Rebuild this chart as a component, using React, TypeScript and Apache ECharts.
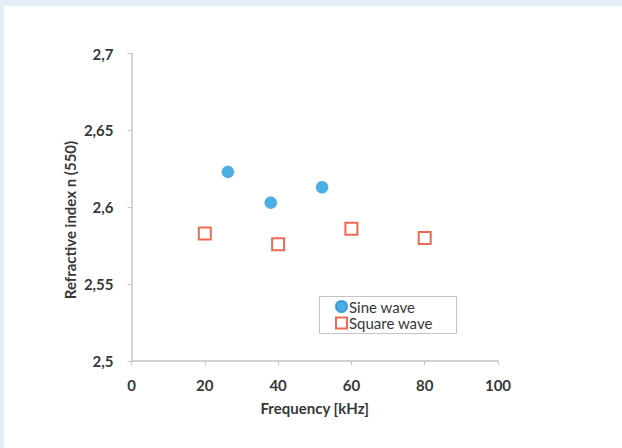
import React, { useEffect, useRef } from "react";
import * as echarts from "echarts";

const sineFreq = [26.3, 38.0, 52.0];
const sineN = [2.623, 2.603, 2.613];
const squareFreq = [20, 40, 60, 80];
const squareN = [2.583, 2.576, 2.586, 2.58];
const seriesNames = ["Sine wave", "Square wave"];
const xTitle = "Frequency [kHz]";
const yTitle = "Refractive index n (550)";

const FONT = "Lato, 'Open Sans', sans-serif";
const TXT = "#383838";
const AXIS = "#c4c4c4";

export default function App() {
  const ref = useRef<HTMLDivElement>(null);
  useEffect(() => {
    document.body.style.margin = "0";
    const chart = echarts.init(ref.current!, null, { renderer: "svg" });
    chart.setOption({
      animation: false,
      backgroundColor: "#e5eef6",
      textStyle: { fontFamily: FONT },
      grid: { left: 131.5, top: 53.5, right: 124, bottom: 87 },
      graphic: [
        { type: "rect", z: -10, shape: { x: 4, y: 6, width: 620, height: 444 }, style: { fill: "#ffffff" } },
        { type: "rect", z: 10, shape: { x: 319.5, y: 296.5, width: 137, height: 37 }, style: { fill: "#ffffff", stroke: AXIS, lineWidth: 1 } },
        {
          type: "text", z: 10, x: 70, y: 220, rotation: Math.PI / 2,
          style: { text: yTitle, fill: TXT, font: `bold 15px ${FONT}`, align: "center", verticalAlign: "middle" },
        },
      ],
      legend: {
        orient: "vertical",
        left: 335,
        top: 299,
        z: 20,
        itemWidth: 11,
        itemHeight: 11,
        itemGap: 1.6,
        padding: 0,
        textStyle: { color: TXT, fontSize: 15, lineHeight: 15, fontFamily: FONT, padding: [0, 0, 0, -3] },
        data: [
          { name: seriesNames[0], icon: "circle" },
          { name: seriesNames[1], icon: "rect" },
        ],
      },
      xAxis: {
        type: "value",
        min: 0,
        max: 100,
        interval: 20,
        name: xTitle,
        nameLocation: "middle",
        nameGap: 39,
        nameTextStyle: { color: TXT, fontWeight: "bold", fontSize: 15, fontFamily: FONT },
        axisLine: { show: true, lineStyle: { color: AXIS, width: 1.5 } },
        axisTick: { show: true, length: 4, lineStyle: { color: AXIS } },
        axisLabel: { color: TXT, fontSize: 15, fontWeight: "bold", margin: 16 },
        splitLine: { show: false },
      },
      yAxis: {
        type: "value",
        min: 2.5,
        max: 2.7,
        interval: 0.05,
        axisLine: { show: true, lineStyle: { color: AXIS, width: 1.5 } },
        axisTick: { show: true, length: 4, lineStyle: { color: AXIS } },
        axisLabel: {
          color: TXT, fontSize: 15, fontWeight: "bold", margin: 18,
          formatter: (v: number) => String(Math.round(v * 100) / 100).replace(".", ","),
        },
        splitLine: { show: false },
      },
      series: [
        {
          name: seriesNames[0],
          type: "scatter",
          symbol: "circle",
          symbolSize: 12,
          itemStyle: { color: "#1e9ade", borderColor: "#2a8fd0", borderWidth: 0.5 },
          data: sineFreq.map((f, i) => [f, sineN[i]]),
        },
        {
          name: seriesNames[1],
          type: "scatter",
          symbol: "rect",
          symbolSize: 12,
          itemStyle: { color: "#ffffff", borderColor: "#e8432c", borderWidth: 2 },
          data: squareFreq.map((f, i) => [f, squareN[i]]),
        },
      ],
    });
    return () => chart.dispose();
  }, []);
  return <div ref={ref} style={{ width: 622, height: 448 }} />;
}
